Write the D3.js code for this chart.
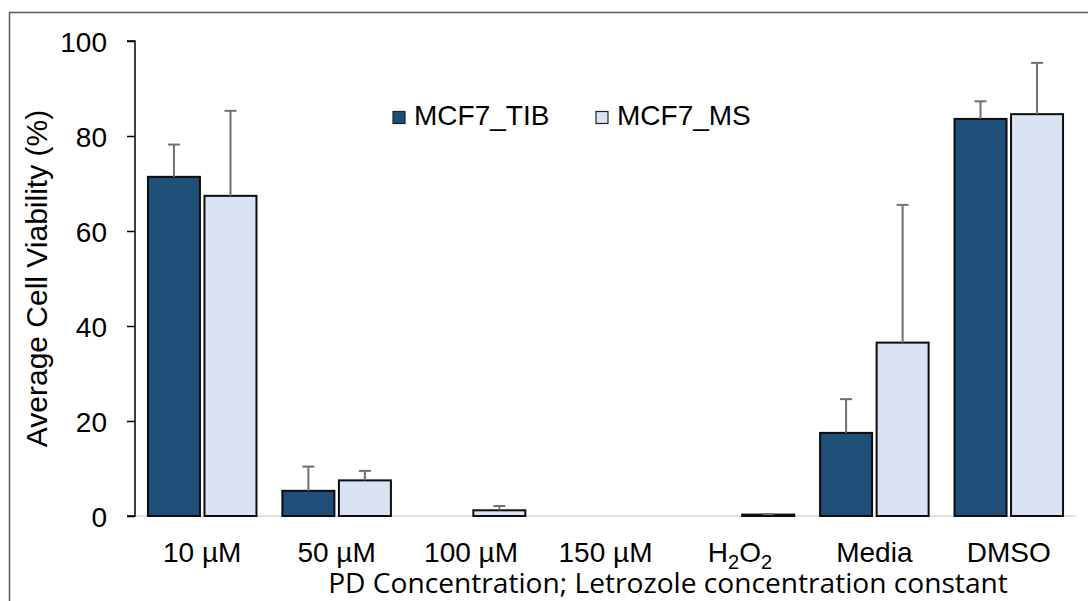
<!DOCTYPE html>
<html>
<head>
<meta charset="utf-8">
<script src="https://cdn.jsdelivr.net/npm/d3@7"></script>
<style>
  html, body { margin: 0; padding: 0; background: #ffffff; }
  svg { display: block; }
</style>
</head>
<body>
<svg id="chart" width="1088" height="601"></svg>
<script>
// ---- data ----
const categories = ["10 µM", "50 µM", "100 µM", "150 µM", "H2O2", "Media", "DMSO"];
const seriesNames = ["MCF7_TIB", "MCF7_MS"];
const tibValues = [71.4, 5.3, 0, 0, 0, 17.5, 83.6];
const tibErrors = [6.8, 5.1, 0, 0, 0, 7.1, 3.7];
const msValues  = [67.4, 7.5, 1.2, 0, 0.3, 36.5, 84.6];
const msErrors  = [17.9, 2.0, 0.9, 0, 0.1, 29.0, 10.8];
const yTicks = [0, 20, 40, 60, 80, 100];
const yTitle = "Average Cell Viability (%)";
const xTitle = "PD Concentration; Letrozole concentration constant";

// ---- layout ----
const W = 1088, H = 601;
const plot = { left: 135, right: 1076, top: 41, bottom: 516 };
const colors = { "MCF7_TIB": "#1f4e79", "MCF7_MS": "#dae3f3" };
const arial = "'Liberation Sans', Arial, sans-serif";

const svg = d3.select("#chart");
svg.append("rect").attr("width", W).attr("height", H).attr("fill", "#fff");

// outer frame
svg.append("rect")
  .attr("x", 9.5).attr("y", 12.5).attr("width", 1200).attr("height", 800)
  .attr("fill", "none").attr("stroke", "#595959").attr("stroke-width", 1.5);

const x0 = d3.scaleBand().domain(categories).range([plot.left, plot.right]).paddingInner(0).paddingOuter(0);
const x1 = d3.scaleBand().domain(seriesNames).range([0, x0.bandwidth()]).paddingInner(0.08).paddingOuter(0.229);
const y = d3.scaleLinear().domain([0, 100]).range([plot.bottom, plot.top]);

const rows = categories.map((c, i) => ({
  cat: c,
  items: [
    { s: "MCF7_TIB", v: tibValues[i], e: tibErrors[i] },
    { s: "MCF7_MS",  v: msValues[i],  e: msErrors[i] }
  ]
}));

// baseline (x axis line)
svg.append("line")
  .attr("x1", plot.left).attr("x2", plot.right)
  .attr("y1", y(0)).attr("y2", y(0))
  .attr("stroke", "#d9d9d9").attr("stroke-width", 1.5);

// bars
const groups = svg.append("g").selectAll("g").data(rows).join("g")
  .attr("transform", d => `translate(${x0(d.cat)},0)`);

groups.selectAll("rect").data(d => d.items.filter(it => it.v > 0)).join("rect")
  .attr("x", d => x1(d.s))
  .attr("width", x1.bandwidth())
  .attr("y", d => y(d.v))
  .attr("height", d => y(0) - y(d.v))
  .attr("fill", d => colors[d.s])
  .attr("stroke", "#0d0d0d").attr("stroke-width", 2);

// error bars (positive only)
const eg = groups.selectAll("g.err").data(d => d.items.filter(it => it.v > 0 && it.e > 0)).join("g")
  .attr("class", "err");
eg.append("line")
  .attr("x1", d => x1(d.s) + x1.bandwidth() / 2).attr("x2", d => x1(d.s) + x1.bandwidth() / 2)
  .attr("y1", d => y(d.v)).attr("y2", d => y(d.v + d.e))
  .attr("stroke", "#707070").attr("stroke-width", 2);
eg.append("line")
  .attr("x1", d => x1(d.s) + x1.bandwidth() / 2 - 6).attr("x2", d => x1(d.s) + x1.bandwidth() / 2 + 6)
  .attr("y1", d => y(d.v + d.e)).attr("y2", d => y(d.v + d.e))
  .attr("stroke", "#707070").attr("stroke-width", 2);

// y axis
const yAxis = d3.axisLeft(y).tickValues(yTicks).tickSize(8).tickPadding(20).tickFormat(d3.format("d"));
const yg = svg.append("g").attr("transform", `translate(${plot.left},0)`).call(yAxis);
yg.select(".domain").attr("stroke", "#000").attr("stroke-width", 1.5).attr("d", `M-8,${plot.top}H0V${plot.bottom}H-8`);
yg.selectAll(".tick line").attr("stroke", "#000").attr("stroke-width", 1.5);
yg.selectAll(".tick text").attr("font-family", arial).attr("font-size", 28).attr("fill", "#000").attr("dy", "0.36em");

// x tick labels
const xl = svg.append("g").selectAll("text").data(categories).join("text")
  .attr("x", d => x0(d) + x0.bandwidth() / 2)
  .attr("y", 562)
  .attr("text-anchor", "middle")
  .attr("font-family", arial).attr("font-size", 28).attr("fill", "#000");
xl.each(function(d) {
  const t = d3.select(this);
  if (d === "H2O2") {
    t.append("tspan").text("H");
    t.append("tspan").text("2").attr("font-size", 20).attr("dy", 7);
    t.append("tspan").text("O").attr("dy", -7);
    t.append("tspan").text("2").attr("font-size", 20).attr("dy", 7);
  } else {
    t.text(d);
  }
});

// y title
svg.append("text")
  .attr("transform", `translate(47,${(plot.top + plot.bottom) / 2}) rotate(-90)`)
  .attr("text-anchor", "middle")
  .attr("font-family", arial).attr("font-size", 30).attr("fill", "#000")
  .text(yTitle);

// x title
const xt = svg.append("text")
  .attr("x", 668).attr("y", 593)
  .attr("text-anchor", "middle")
  .attr("font-family", "'Open Sans', Lato, sans-serif").attr("font-size", 26).attr("fill", "#000")
  .text(xTitle);
// fit to target width
const targetW = 680;
const curW = xt.node().getComputedTextLength();
xt.attr("font-size", 26 * targetW / curW);

// legend
const legend = svg.append("g");
const legX = [393, 596];
seriesNames.forEach((s, i) => {
  legend.append("rect")
    .attr("x", legX[i]).attr("y", 111.5).attr("width", 12).attr("height", 12)
    .attr("fill", colors[s]).attr("stroke", "#222").attr("stroke-width", 1.2);
  legend.append("text")
    .attr("x", legX[i] + 21).attr("y", 125)
    .attr("font-family", arial).attr("font-size", 28).attr("fill", "#000")
    .text(s);
});
</script>
</body>
</html>
